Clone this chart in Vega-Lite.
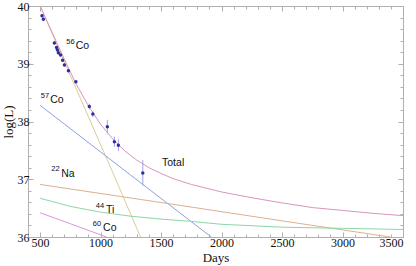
{
  "$schema": "https://vega.github.io/schema/vega-lite/v6.json",
  "width": 375,
  "height": 231,
  "autosize": "none",
  "padding": {"left": 28, "top": 6, "right": 13, "bottom": 29},
  "background": "white",
  "config": {
    "view": {"stroke": "#b0b0b0", "strokeWidth": 1},
    "axis": {
      "grid": false,
      "domain": false,
      "tickColor": "#b0b0b0",
      "labelFont": "Liberation Serif",
      "labelFontSize": 12,
      "labelColor": "#111",
      "titleFont": "Liberation Serif",
      "titleFontSize": 13,
      "titleFontWeight": "normal",
      "titleColor": "#111"
    }
  },
  "datasets": {
    "curves": [
      {"series": "56Co", "day": 500, "logL": 40.0},
      {"series": "56Co", "day": 800, "logL": 38.56},
      {"series": "56Co", "day": 1100, "logL": 37.12},
      {"series": "56Co", "day": 1330, "logL": 36.0},
      {"series": "Total", "day": 500, "logL": 40.0},
      {"series": "Total", "day": 600, "logL": 39.54},
      {"series": "Total", "day": 700, "logL": 39.08},
      {"series": "Total", "day": 800, "logL": 38.64},
      {"series": "Total", "day": 900, "logL": 38.27},
      {"series": "Total", "day": 1000, "logL": 37.95},
      {"series": "Total", "day": 1100, "logL": 37.7},
      {"series": "Total", "day": 1200, "logL": 37.49},
      {"series": "Total", "day": 1300, "logL": 37.33},
      {"series": "Total", "day": 1400, "logL": 37.2},
      {"series": "Total", "day": 1500, "logL": 37.1},
      {"series": "Total", "day": 1600, "logL": 37.01},
      {"series": "Total", "day": 1750, "logL": 36.91},
      {"series": "Total", "day": 2000, "logL": 36.78},
      {"series": "Total", "day": 2250, "logL": 36.68},
      {"series": "Total", "day": 2500, "logL": 36.59},
      {"series": "Total", "day": 2750, "logL": 36.51},
      {"series": "Total", "day": 3000, "logL": 36.46},
      {"series": "Total", "day": 3250, "logL": 36.41},
      {"series": "Total", "day": 3500, "logL": 36.37},
      {"series": "57Co", "day": 500, "logL": 38.28},
      {"series": "57Co", "day": 1250, "logL": 37.07},
      {"series": "57Co", "day": 1915, "logL": 36.0},
      {"series": "22Na", "day": 500, "logL": 36.91},
      {"series": "22Na", "day": 1650, "logL": 36.55},
      {"series": "22Na", "day": 2500, "logL": 36.28},
      {"series": "22Na", "day": 3393, "logL": 36.0},
      {"series": "44Ti", "day": 500, "logL": 36.67},
      {"series": "44Ti", "day": 750, "logL": 36.53},
      {"series": "44Ti", "day": 1000, "logL": 36.43},
      {"series": "44Ti", "day": 1250, "logL": 36.36},
      {"series": "44Ti", "day": 1500, "logL": 36.31},
      {"series": "44Ti", "day": 1750, "logL": 36.27},
      {"series": "44Ti", "day": 2000, "logL": 36.22},
      {"series": "44Ti", "day": 2500, "logL": 36.17},
      {"series": "44Ti", "day": 3000, "logL": 36.15},
      {"series": "44Ti", "day": 3500, "logL": 36.13},
      {"series": "60Co", "day": 500, "logL": 36.42},
      {"series": "60Co", "day": 750, "logL": 36.23},
      {"series": "60Co", "day": 1050, "logL": 36.0}
    ],
    "obs": [
      {"day": 516, "logL": 39.83, "lo": 39.8, "hi": 39.86},
      {"day": 527, "logL": 39.77, "lo": 39.74, "hi": 39.8},
      {"day": 618, "logL": 39.36, "lo": 39.33, "hi": 39.39},
      {"day": 636, "logL": 39.28, "lo": 39.25, "hi": 39.31},
      {"day": 643, "logL": 39.24, "lo": 39.21, "hi": 39.27},
      {"day": 651, "logL": 39.19, "lo": 39.16, "hi": 39.22},
      {"day": 669, "logL": 39.15, "lo": 39.12, "hi": 39.18},
      {"day": 686, "logL": 39.06, "lo": 39.03, "hi": 39.09},
      {"day": 701, "logL": 38.98, "lo": 38.95, "hi": 39.01},
      {"day": 734, "logL": 38.88, "lo": 38.85, "hi": 38.91},
      {"day": 796, "logL": 38.69, "lo": 38.66, "hi": 38.72},
      {"day": 907, "logL": 38.26, "lo": 38.21, "hi": 38.31},
      {"day": 936, "logL": 38.13, "lo": 38.08, "hi": 38.18},
      {"day": 1056, "logL": 37.91, "lo": 37.79, "hi": 38.03},
      {"day": 1114, "logL": 37.65, "lo": 37.56, "hi": 37.74},
      {"day": 1147, "logL": 37.59, "lo": 37.49, "hi": 37.69},
      {"day": 1349, "logL": 37.11, "lo": 36.89, "hi": 37.33}
    ],
    "labels": [
      {"text": "Co", "day": 795, "logL": 39.3},
      {"text": "Co", "day": 583, "logL": 38.38},
      {"text": "Na", "day": 674, "logL": 37.09},
      {"text": "Ti", "day": 1045, "logL": 36.46},
      {"text": "Co", "day": 1021, "logL": 36.15},
      {"text": "Total", "day": 1508, "logL": 37.28}
    ],
    "sups": [
      {"text": "56", "day": 785, "logL": 39.37},
      {"text": "57", "day": 574, "logL": 38.44},
      {"text": "22", "day": 661, "logL": 37.17},
      {"text": "44", "day": 1029, "logL": 36.53},
      {"text": "60", "day": 1004, "logL": 36.22}
    ]
  },
  "layer": [
    {
      "data": {"name": "curves"},
      "mark": {"type": "line", "strokeWidth": 1, "clip": true},
      "encoding": {
        "x": {
          "field": "day", "type": "quantitative",
          "scale": {"domain": [400, 3500], "nice": false, "zero": false},
          "axis": {"orient": "bottom", "values": [500, 1000, 1500, 2000, 2500, 3000, 3500], "format": "d", "tickSize": -5, "labelPadding": 5, "title": "Days", "titlePadding": 3}
        },
        "y": {
          "field": "logL", "type": "quantitative",
          "scale": {"domain": [36, 40], "nice": false, "zero": false},
          "axis": {"orient": "left", "values": [36, 37, 38, 39, 40], "format": "d", "tickSize": -5, "labelPadding": 4, "title": "log(L)", "titlePadding": 2}
        },
        "color": {
          "field": "series", "type": "nominal", "legend": null,
          "scale": {
            "domain": ["56Co", "Total", "57Co", "22Na", "44Ti", "60Co"],
            "range": ["#dccc98", "#d895bd", "#8ca2de", "#dcb190", "#8ed6a8", "#dc96dc"]
          }
        },
        "detail": {"field": "series"}
      }
    },
    {
      "data": {"name": "obs"},
      "mark": {"type": "rule", "color": "#a2a2e2", "strokeWidth": 1},
      "encoding": {
        "x": {
          "field": "day", "type": "quantitative",
          "axis": {"orient": "bottom", "values": [400, 600, 700, 800, 900, 1100, 1200, 1300, 1400, 1600, 1700, 1800, 1900, 2100, 2200, 2300, 2400, 2600, 2700, 2800, 2900, 3100, 3200, 3300, 3400], "labels": false, "tickSize": -3, "title": null}
        },
        "y": {
          "field": "lo", "type": "quantitative",
          "axis": {"orient": "left", "values": [36.2, 36.4, 36.6, 36.8, 37.2, 37.4, 37.6, 37.8, 38.2, 38.4, 38.6, 38.8, 39.2, 39.4, 39.6, 39.8], "labels": false, "tickSize": -3, "title": null}
        },
        "y2": {"field": "hi"}
      }
    },
    {
      "data": {"name": "obs"},
      "mark": {"type": "circle", "color": "#2e2ea2", "opacity": 1, "size": 12},
      "encoding": {
        "x": {
          "field": "day", "type": "quantitative",
          "axis": {"orient": "top", "values": [500, 1000, 1500, 2000, 2500, 3000, 3500], "labels": false, "tickSize": -5, "title": null}
        },
        "y": {
          "field": "logL", "type": "quantitative",
          "axis": {"orient": "right", "values": [36, 37, 38, 39, 40], "labels": false, "tickSize": -5, "title": null}
        }
      }
    },
    {
      "data": {"name": "labels"},
      "mark": {"type": "text", "align": "left", "baseline": "middle", "font": "Liberation Sans", "fontSize": 10.5, "color": "#111"},
      "encoding": {
        "x": {
          "field": "day", "type": "quantitative",
          "axis": {"orient": "top", "values": [400, 600, 700, 800, 900, 1100, 1200, 1300, 1400, 1600, 1700, 1800, 1900, 2100, 2200, 2300, 2400, 2600, 2700, 2800, 2900, 3100, 3200, 3300, 3400], "labels": false, "tickSize": -3, "title": null}
        },
        "y": {
          "field": "logL", "type": "quantitative",
          "axis": {"orient": "right", "values": [36.2, 36.4, 36.6, 36.8, 37.2, 37.4, 37.6, 37.8, 38.2, 38.4, 38.6, 38.8, 39.2, 39.4, 39.6, 39.8], "labels": false, "tickSize": -3, "title": null}
        },
        "text": {"field": "text"}
      }
    },
    {
      "data": {"name": "sups"},
      "mark": {"type": "text", "align": "right", "baseline": "middle", "font": "Liberation Sans", "fontSize": 7.5, "color": "#111"},
      "encoding": {
        "x": {"field": "day", "type": "quantitative", "axis": null},
        "y": {"field": "logL", "type": "quantitative", "axis": null},
        "text": {"field": "text"}
      }
    }
  ],
  "resolve": {"axis": {"x": "independent", "y": "independent"}}
}
